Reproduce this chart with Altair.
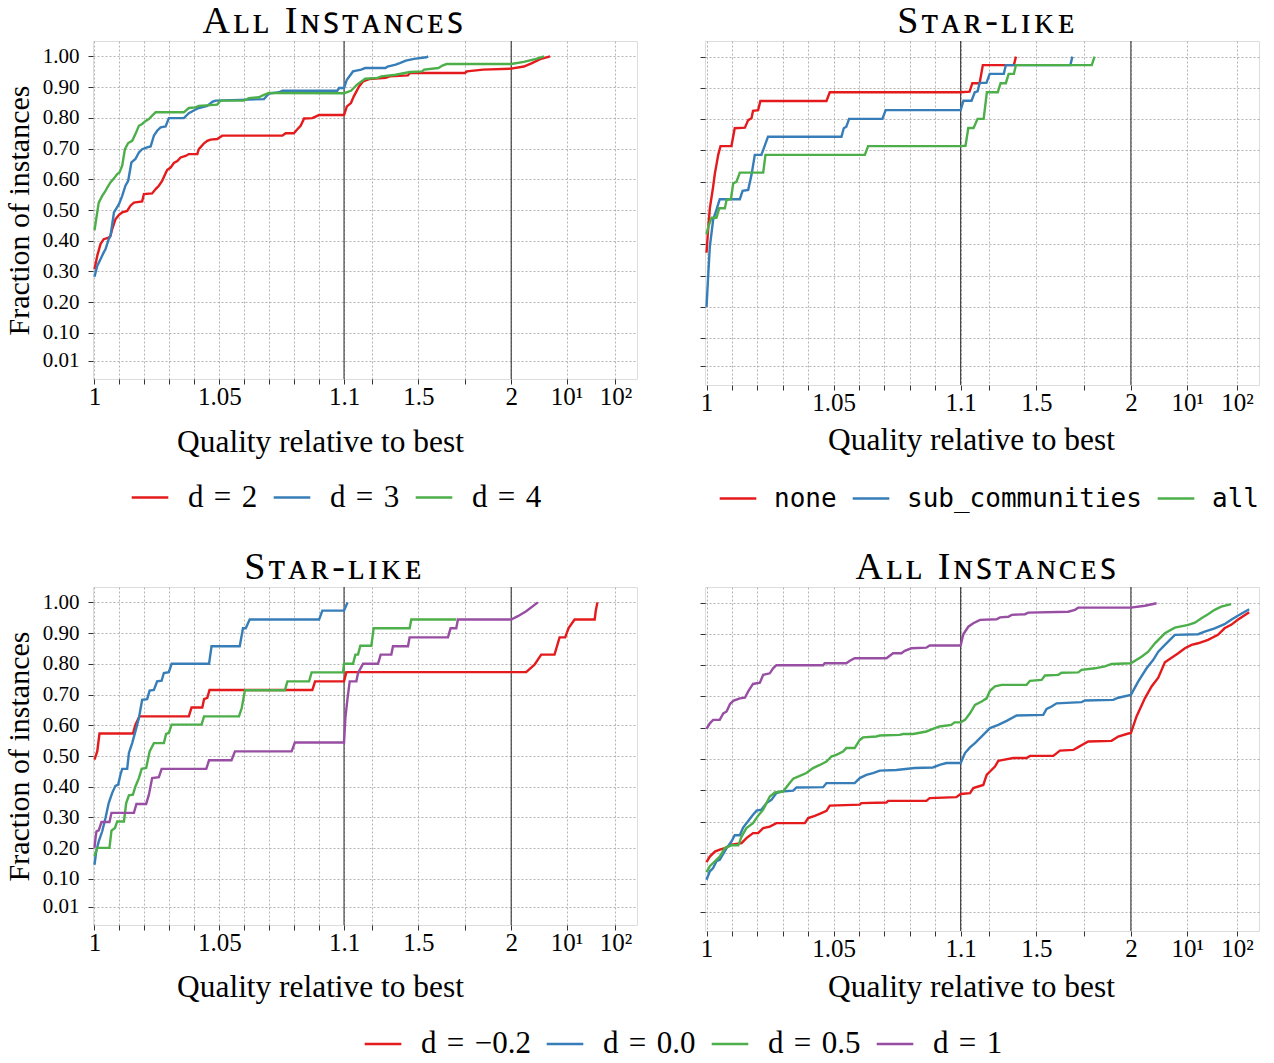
import math
import altair as alt
import pandas as pd

# ---------------- data (quality ratio x, fraction of instances y) ----------------
# Top-left: All Instances, d = 2 / 3 / 4
TL_D2_X = [1.0, 1.0011, 1.0024, 1.0037, 1.0057, 1.0064, 1.0071, 1.0084, 1.0098, 1.0111, 1.0131, 1.0144, 1.0158, 1.0191, 1.0198, 1.0231, 1.0245, 1.0258, 1.0271, 1.0291, 1.0305, 1.0318, 1.0332, 1.0345, 1.0365, 1.0378, 1.0412, 1.0418, 1.0439, 1.0452, 1.0465, 1.0492, 1.0512, 1.0753, 1.0766, 1.0799, 1.0813, 1.0826, 1.0840, 1.0873, 1.0900, 1.1000, 1.1153, 1.1372, 1.1526, 1.1810, 1.2029, 1.2358, 1.3234, 1.3453, 1.4438, 1.4547, 1.7504, 1.7613, 1.8489, 2.0, 2.89, 3.66, 4.64, 6.2]
TL_D2_Y = [0.307, 0.351, 0.389, 0.405, 0.410, 0.416, 0.438, 0.470, 0.484, 0.492, 0.497, 0.514, 0.524, 0.528, 0.552, 0.554, 0.568, 0.579, 0.595, 0.630, 0.638, 0.653, 0.659, 0.671, 0.676, 0.682, 0.682, 0.698, 0.717, 0.725, 0.729, 0.731, 0.742, 0.742, 0.750, 0.750, 0.763, 0.774, 0.798, 0.799, 0.809, 0.809, 0.837, 0.848, 0.870, 0.902, 0.919, 0.926, 0.930, 0.935, 0.938, 0.946, 0.946, 0.951, 0.957, 0.960, 0.967, 0.978, 0.991, 1.0]
TL_D3_X = [1.0, 1.0011, 1.0024, 1.0037, 1.0044, 1.0057, 1.0064, 1.0078, 1.0098, 1.0111, 1.0124, 1.0135, 1.0148, 1.0164, 1.0178, 1.0191, 1.0211, 1.0225, 1.0238, 1.0251, 1.0265, 1.0285, 1.0298, 1.0358, 1.0378, 1.0398, 1.0418, 1.0452, 1.0472, 1.0485, 1.0679, 1.0699, 1.0739, 1.0753, 1.0973, 1.0980, 1.1000, 1.1153, 1.1482, 1.1920, 1.2139, 1.3234, 1.3343, 1.3781, 1.4000, 1.4328, 1.4766, 1.5423, 1.5533]
TL_D3_Y = [0.283, 0.318, 0.340, 0.362, 0.372, 0.405, 0.416, 0.492, 0.519, 0.546, 0.579, 0.595, 0.655, 0.666, 0.687, 0.698, 0.704, 0.707, 0.742, 0.758, 0.769, 0.772, 0.799, 0.799, 0.815, 0.824, 0.832, 0.839, 0.852, 0.856, 0.861, 0.879, 0.883, 0.888, 0.888, 0.897, 0.897, 0.924, 0.951, 0.957, 0.962, 0.962, 0.967, 0.973, 0.978, 0.986, 0.992, 0.997, 1.0]
TL_D4_X = [1.0, 1.0017, 1.0031, 1.0044, 1.0051, 1.0064, 1.0078, 1.0091, 1.0100, 1.0111, 1.0122, 1.0135, 1.0151, 1.0164, 1.0178, 1.0191, 1.0205, 1.0218, 1.0231, 1.0245, 1.0358, 1.0378, 1.0405, 1.0418, 1.0492, 1.0505, 1.0599, 1.0619, 1.0659, 1.0672, 1.0699, 1.1000, 1.1372, 1.1701, 1.2139, 1.2796, 1.3015, 1.3781, 1.4547, 1.5204, 1.5314, 1.6080, 1.6299, 1.6518, 2.0, 2.89, 4.12, 5.2]
TL_D4_Y = [0.434, 0.524, 0.546, 0.562, 0.573, 0.590, 0.603, 0.617, 0.622, 0.644, 0.698, 0.718, 0.725, 0.747, 0.774, 0.780, 0.790, 0.796, 0.807, 0.818, 0.818, 0.832, 0.834, 0.839, 0.843, 0.856, 0.856, 0.864, 0.867, 0.872, 0.881, 0.880, 0.888, 0.908, 0.927, 0.930, 0.935, 0.940, 0.949, 0.951, 0.957, 0.962, 0.970, 0.975, 0.975, 0.982, 0.992, 1.0]

# Top-right: Star-like, none / sub_communities / all
TR_NONE_X = [1.0, 1.0007, 1.0013, 1.0026, 1.0033, 1.0039, 1.0046, 1.0055, 1.0098, 1.0111, 1.0151, 1.0164, 1.0177, 1.0183, 1.0203, 1.0212, 1.0472, 1.0485, 1.1000, 1.1469, 1.1618, 1.2002, 1.2173, 1.3815, 1.3922]
TR_NONE_Y = [0.373, 0.456, 0.515, 0.584, 0.627, 0.654, 0.686, 0.714, 0.714, 0.771, 0.773, 0.797, 0.803, 0.827, 0.829, 0.858, 0.858, 0.886, 0.886, 0.888, 0.915, 0.915, 0.973, 0.973, 1.0]
TR_SUB_X = [1.0, 1.0007, 1.0013, 1.0026, 1.0039, 1.0052, 1.0131, 1.0142, 1.0164, 1.0177, 1.0190, 1.0216, 1.0242, 1.0531, 1.0540, 1.0550, 1.0561, 1.0692, 1.0705, 1.1000, 1.1149, 1.1576, 1.1746, 1.1896, 1.2002, 1.2365, 1.2536, 1.3282, 1.3389, 1.6801, 1.6907]
TR_SUB_Y = [0.200, 0.307, 0.392, 0.478, 0.510, 0.544, 0.544, 0.571, 0.574, 0.622, 0.686, 0.686, 0.744, 0.744, 0.771, 0.776, 0.801, 0.801, 0.829, 0.829, 0.859, 0.859, 0.886, 0.889, 0.916, 0.916, 0.945, 0.945, 0.973, 0.973, 1.0]
TR_ALL_X = [1.0, 1.0007, 1.0020, 1.0039, 1.0050, 1.0072, 1.0079, 1.0096, 1.0105, 1.0118, 1.0131, 1.0223, 1.0232, 1.0623, 1.0636, 1.1000, 1.1256, 1.1405, 1.1682, 1.1896, 1.2216, 1.2386, 1.2962, 1.3111, 1.3389, 1.3538, 1.3815, 1.3922, 1.7931, 1.8080]
TR_ALL_Y = [0.432, 0.456, 0.485, 0.485, 0.515, 0.515, 0.542, 0.544, 0.595, 0.600, 0.629, 0.629, 0.686, 0.686, 0.714, 0.714, 0.715, 0.772, 0.772, 0.801, 0.801, 0.886, 0.886, 0.915, 0.915, 0.945, 0.945, 0.973, 0.973, 1.0]

# Bottom-left: Star-like, d = -0.2 / 0.0 / 0.5 / 1
BL_M02_X = [1.0, 1.0011, 1.0020, 1.0154, 1.0164, 1.0180, 1.0378, 1.0389, 1.0432, 1.0439, 1.0452, 1.0461, 1.0873, 1.0884, 1.1000, 1.1125, 2.0, 3.09, 3.94, 4.79, 7.05, 8.16, 9.62, 11.0, 14.6, 37.6, 39.4, 42.7]
BL_M02_Y = [0.488, 0.515, 0.573, 0.573, 0.602, 0.629, 0.629, 0.658, 0.658, 0.685, 0.689, 0.715, 0.715, 0.743, 0.743, 0.773, 0.773, 0.773, 0.797, 0.830, 0.830, 0.886, 0.886, 0.916, 0.944, 0.944, 0.971, 1.0]
BL_D00_X = [1.0, 1.0007, 1.0017, 1.0031, 1.0044, 1.0057, 1.0071, 1.0084, 1.0095, 1.0104, 1.0111, 1.0131, 1.0138, 1.0151, 1.0164, 1.0178, 1.0191, 1.0211, 1.0221, 1.0238, 1.0251, 1.0269, 1.0278, 1.0298, 1.0309, 1.0459, 1.0469, 1.0582, 1.0595, 1.0606, 1.0622, 1.0900, 1.0913, 1.1000, 1.119]
BL_D00_Y = [0.146, 0.190, 0.222, 0.255, 0.298, 0.347, 0.380, 0.403, 0.407, 0.439, 0.458, 0.458, 0.510, 0.542, 0.580, 0.624, 0.683, 0.685, 0.713, 0.715, 0.743, 0.745, 0.770, 0.773, 0.800, 0.800, 0.857, 0.857, 0.916, 0.916, 0.944, 0.944, 0.973, 0.973, 1.0]
BL_D05_X = [1.0, 1.0011, 1.0060, 1.0068, 1.0082, 1.0091, 1.0118, 1.0127, 1.0138, 1.0154, 1.0164, 1.0178, 1.0189, 1.0207, 1.0221, 1.0238, 1.0278, 1.0287, 1.0298, 1.0309, 1.0429, 1.0439, 1.0579, 1.0590, 1.0603, 1.0763, 1.0773, 1.0860, 1.0870, 1.0996, 1.1000, 1.1484, 1.1610, 1.1753, 1.1878, 1.2470, 1.2596, 1.4532, 1.4621, 1.7042]
BL_D05_Y = [0.174, 0.201, 0.201, 0.257, 0.266, 0.287, 0.287, 0.347, 0.372, 0.374, 0.401, 0.428, 0.458, 0.461, 0.515, 0.542, 0.542, 0.572, 0.575, 0.602, 0.602, 0.629, 0.629, 0.656, 0.714, 0.714, 0.743, 0.743, 0.772, 0.772, 0.800, 0.800, 0.830, 0.830, 0.859, 0.859, 0.916, 0.916, 0.944, 0.944]
BL_D1_X = [1.0, 1.0004, 1.0008, 1.0017, 1.0028, 1.0060, 1.0068, 1.0158, 1.0168, 1.0207, 1.0218, 1.0231, 1.0258, 1.0269, 1.0448, 1.0459, 1.0549, 1.0563, 1.0790, 1.0803, 1.1000, 1.1072, 1.1179, 1.1305, 1.1663, 1.1753, 1.2022, 1.2829, 1.2972, 1.3546, 1.3635, 1.4442, 1.4532, 1.6594, 1.6737, 1.7042, 1.7131, 2.0, 2.43, 3.09, 4.34]
BL_D1_Y = [0.201, 0.233, 0.255, 0.258, 0.285, 0.285, 0.315, 0.315, 0.344, 0.344, 0.374, 0.428, 0.431, 0.458, 0.458, 0.486, 0.486, 0.515, 0.515, 0.544, 0.544, 0.624, 0.683, 0.743, 0.743, 0.770, 0.800, 0.800, 0.830, 0.830, 0.857, 0.857, 0.886, 0.886, 0.916, 0.916, 0.944, 0.944, 0.955, 0.971, 1.0]

# Bottom-right: All Instances, d = -0.2 / 0.0 / 0.5 / 1
BR_M02_X = [1.0, 1.0013, 1.0033, 1.0052, 1.0072, 1.0098, 1.0138, 1.0157, 1.0183, 1.0203, 1.0223, 1.0249, 1.0275, 1.0387, 1.0400, 1.0426, 1.0452, 1.0472, 1.0485, 1.0603, 1.0609, 1.0708, 1.0714, 1.0865, 1.0878, 1.0983, 1.1000, 1.1493, 1.1669, 1.1933, 1.2198, 1.2374, 1.2550, 1.2814, 1.2990, 1.3254, 1.3783, 1.4487, 1.4663, 1.5896, 1.6248, 1.6952, 1.7217, 1.7481, 1.7745, 1.8978, 1.9331, 1.9771, 2.0, 2.35, 2.98, 3.61, 4.37, 5.28, 6.39, 7.73, 9.35, 12.2, 16.5, 26.1, 41.4, 56.0, 76.0, 103.3, 175.0]
BR_M02_Y = [0.170, 0.188, 0.204, 0.210, 0.215, 0.226, 0.231, 0.247, 0.263, 0.263, 0.279, 0.284, 0.295, 0.295, 0.311, 0.318, 0.327, 0.334, 0.351, 0.354, 0.359, 0.361, 0.366, 0.366, 0.375, 0.378, 0.388, 0.391, 0.407, 0.412, 0.417, 0.449, 0.460, 0.476, 0.494, 0.497, 0.503, 0.503, 0.510, 0.510, 0.527, 0.529, 0.538, 0.547, 0.556, 0.558, 0.572, 0.580, 0.583, 0.636, 0.694, 0.732, 0.760, 0.809, 0.824, 0.838, 0.854, 0.865, 0.870, 0.881, 0.897, 0.918, 0.929, 0.945, 0.969]
BR_D00_X = [1.0, 1.0013, 1.0026, 1.0039, 1.0052, 1.0079, 1.0098, 1.0111, 1.0131, 1.0144, 1.0164, 1.0183, 1.0197, 1.0216, 1.0236, 1.0256, 1.0275, 1.0295, 1.0341, 1.0354, 1.0459, 1.0472, 1.0583, 1.0603, 1.0629, 1.0655, 1.0682, 1.0747, 1.0819, 1.0891, 1.0917, 1.0944, 1.1000, 1.1229, 1.1493, 1.1757, 1.2022, 1.2286, 1.2550, 1.2990, 1.3431, 1.3959, 1.5368, 1.5544, 1.5808, 1.6072, 1.7393, 1.7569, 1.9066, 1.9331, 2.0, 2.47, 3.13, 3.79, 4.37, 5.28, 7.02, 16.5, 22.4, 35.5, 56.0, 76.0, 103.3, 175.0]
BR_D00_Y = [0.114, 0.141, 0.151, 0.173, 0.178, 0.215, 0.236, 0.256, 0.256, 0.281, 0.302, 0.322, 0.335, 0.338, 0.359, 0.370, 0.391, 0.396, 0.399, 0.409, 0.410, 0.423, 0.423, 0.439, 0.449, 0.455, 0.463, 0.465, 0.471, 0.473, 0.481, 0.487, 0.487, 0.519, 0.537, 0.551, 0.567, 0.583, 0.599, 0.609, 0.622, 0.639, 0.641, 0.660, 0.668, 0.678, 0.682, 0.687, 0.689, 0.696, 0.705, 0.748, 0.790, 0.817, 0.843, 0.865, 0.897, 0.899, 0.907, 0.918, 0.931, 0.945, 0.958, 0.979]
BR_D05_X = [1.0, 1.0013, 1.0033, 1.0052, 1.0072, 1.0098, 1.0125, 1.0138, 1.0157, 1.0183, 1.0203, 1.0223, 1.0236, 1.0249, 1.0269, 1.0301, 1.0321, 1.0341, 1.0367, 1.0393, 1.0419, 1.0446, 1.0472, 1.0491, 1.0511, 1.0537, 1.0550, 1.0583, 1.0603, 1.0616, 1.0668, 1.0682, 1.0760, 1.0773, 1.0813, 1.0865, 1.0891, 1.0917, 1.0963, 1.0976, 1.1000, 1.1229, 1.1493, 1.1757, 1.2110, 1.2374, 1.2550, 1.2814, 1.3166, 1.4487, 1.4663, 1.5280, 1.5456, 1.6160, 1.6336, 1.7217, 1.7393, 1.8097, 1.8626, 1.8978, 2.0, 2.71, 3.28, 3.97, 5.28, 7.02, 10.5, 14.2, 19.3, 26.1, 35.5, 48.1, 76.0]
BR_D05_Y = [0.138, 0.157, 0.173, 0.188, 0.215, 0.224, 0.224, 0.252, 0.279, 0.295, 0.319, 0.338, 0.359, 0.380, 0.393, 0.396, 0.417, 0.437, 0.446, 0.455, 0.471, 0.481, 0.492, 0.508, 0.513, 0.524, 0.535, 0.535, 0.561, 0.569, 0.572, 0.575, 0.577, 0.580, 0.580, 0.588, 0.596, 0.604, 0.609, 0.617, 0.617, 0.625, 0.646, 0.673, 0.684, 0.694, 0.718, 0.732, 0.737, 0.737, 0.750, 0.753, 0.767, 0.769, 0.776, 0.777, 0.785, 0.790, 0.796, 0.804, 0.806, 0.827, 0.843, 0.870, 0.902, 0.920, 0.929, 0.936, 0.950, 0.963, 0.977, 0.987, 0.995]
BR_D1_X = [1.0, 1.0013, 1.0026, 1.0052, 1.0066, 1.0079, 1.0092, 1.0105, 1.0131, 1.0151, 1.0164, 1.0183, 1.0210, 1.0223, 1.0249, 1.0262, 1.0275, 1.0459, 1.0465, 1.0550, 1.0564, 1.0583, 1.0708, 1.0734, 1.0767, 1.0780, 1.0806, 1.0865, 1.0878, 1.1000, 1.1141, 1.1405, 1.1669, 1.2022, 1.2902, 1.3078, 1.3519, 1.3695, 1.4399, 1.4575, 1.6689, 1.7041, 1.7217, 2.0, 2.98, 4.16]
BR_D1_Y = [0.596, 0.614, 0.625, 0.625, 0.646, 0.652, 0.675, 0.686, 0.694, 0.696, 0.716, 0.740, 0.744, 0.769, 0.774, 0.790, 0.800, 0.800, 0.806, 0.806, 0.814, 0.822, 0.822, 0.838, 0.838, 0.846, 0.854, 0.856, 0.863, 0.863, 0.899, 0.923, 0.934, 0.945, 0.947, 0.953, 0.955, 0.961, 0.963, 0.968, 0.971, 0.977, 0.984, 0.984, 0.990, 0.998]

# legend labels / titles / ticks
SP = "\u2004"
NAMES_D234 = [f"d{SP}={SP}2", f"d{SP}={SP}3", f"d{SP}={SP}4"]
NAMES_CUT = ["none", "sub_communities", "all"]
NAMES_DNEG = [f"d{SP}={SP}\u22120.2", f"d{SP}={SP}0.0", f"d{SP}={SP}0.5", f"d{SP}={SP}1"]
COLORS3 = ["#e41a1c", "#377eb8", "#4daf4a"]
COLORS4 = ["#e41a1c", "#377eb8", "#4daf4a", "#984ea3"]

X_TICK_VALUES = [1, 1.05, 1.1, 1.5, 2, 10, 100]
X_TICK_LABELS = ["1", "1.05", "1.1", "1.5", "2", "10\u00b9", "10\u00b2"]
X_MINOR_VALUES = [1.01, 1.02, 1.03, 1.04, 1.06, 1.07, 1.08, 1.09, 1.25, 1.75]
Y_TICK_VALUES = [0.01, 0.1, 0.2, 0.3, 0.4, 0.5, 0.6, 0.7, 0.8, 0.9, 1.0]
BREAKS = [1.1, 2.0]

# ---------------- piecewise x transform (linear | linear | log | log) ----------------
S2, S3, S4 = 0.6699, 0.2218, 0.196
X_DOMAIN = [-0.006, 2.174]


def to_u(q):
    if q <= 1.1:
        return (q - 1) / 0.1
    if q <= 2:
        return 1 + (q - 1.1) / 0.9 * S2
    if q <= 10:
        return 1 + S2 + math.log(q / 2) / math.log(5) * S3
    return 1 + S2 + S3 + math.log10(q / 10) * S4


U_EXPR = (
    f"datum.q <= 1.1 ? (datum.q - 1) / 0.1 : "
    f"datum.q <= 2 ? 1 + (datum.q - 1.1) / 0.9 * {S2} : "
    f"datum.q <= 10 ? {1 + S2} + log(datum.q / 2) / log(5) * {S3} : "
    f"{1 + S2 + S3} + log(datum.q / 10) / LN10 * {S4}"
)

x_tick_u = sorted(to_u(v) for v in X_TICK_VALUES + X_MINOR_VALUES)
label_expr = "".join(
    f"abs(datum.value - {to_u(v):.6f}) < 0.0001 ? '{lab}' : "
    for v, lab in zip(X_TICK_VALUES, X_TICK_LABELS)
) + "''"

FONT = "Liberation Serif"
GRID = dict(grid=True, gridDash=[2, 2], gridColor="#b3b3b3", gridWidth=1)


def make_df(series):
    rows = []
    for name, xs, ys in series:
        for i, (q, y) in enumerate(zip(xs, ys)):
            rows.append({"series": name, "q": q, "y": y, "idx": i})
    return pd.DataFrame(rows)


def panel(series, names, colors, width, height, title, title_dx, show_ylabels,
          legend, xtitle_x, xtitle_y):
    df = make_df(series)
    xaxis = alt.Axis(values=x_tick_u, labelExpr=label_expr, domain=False,
                     tickSize=5, tickColor="#333333", labelFont=FONT, labelFontSize=25,
                     labelColor="black", labelPadding=0, labelOverlap=False, labelFlush=False,
                     title="Quality relative to best", titleFont=FONT, titleFontSize=31.4,
                     titleFontWeight="normal", titleColor="black", titleX=xtitle_x,
                     titleY=xtitle_y, titleBaseline="alphabetic", titleAlign="center", **GRID)
    if show_ylabels:
        yaxis = alt.Axis(values=Y_TICK_VALUES, format=".2f", domain=False, tickSize=5,
                         tickColor="#333333", labelFont=FONT, labelFontSize=21,
                         labelColor="black", labelPadding=9, labelFlush=False,
                         title="Fraction of instances", titleFont=FONT, titleFontSize=30,
                         titleFontWeight="normal", titleColor="black", titleX=-65,
                         titleY=height / 2, titleBaseline="alphabetic", titleAlign="center",
                         **GRID)
    else:
        yaxis = alt.Axis(values=Y_TICK_VALUES, labels=False, domain=False, tickSize=5,
                         tickColor="#333333", title=None, **GRID)
    xscale = alt.Scale(domain=X_DOMAIN, nice=False, zero=False)
    yscale = alt.Scale(domain=[-0.05, 1.05], nice=False, zero=False)

    rules = alt.Chart(pd.DataFrame({"q": BREAKS})).transform_calculate(
        u=U_EXPR
    ).mark_rule(color="#333333", strokeWidth=1.1).encode(
        x=alt.X("u:Q", scale=xscale, axis=xaxis)
    )
    lines = alt.Chart(df).transform_calculate(u=U_EXPR).mark_line(
        strokeWidth=2.4, clip=True
    ).encode(
        x=alt.X("u:Q", scale=xscale, axis=xaxis),
        y=alt.Y("y:Q", scale=yscale, axis=yaxis),
        color=alt.Color("series:N", scale=alt.Scale(domain=names, range=colors),
                        legend=legend),
        order=alt.Order("idx:Q"),
    )
    return alt.layer(rules, lines).properties(
        width=width, height=height,
        title=alt.TitleParams(text=title, anchor="middle", frame="group", dx=title_dx,
                              offset=-31, baseline="alphabetic", font=FONT,
                              fontSize=38, fontWeight="normal", color="black"),
    )


def legend(font, size, lx, ly, offset=18):
    return alt.Legend(orient="none", legendX=lx, legendY=ly, direction="horizontal",
                      title=None, symbolType="stroke", symbolSize=1340,
                      symbolStrokeWidth=2.6, labelFont=font, labelFontSize=size,
                      labelColor="black", labelOffset=offset, columnPadding=10, padding=0,
                      labelLimit=0)


def small_caps(s):
    return "\u200a".join(s)


T_ALL = small_caps("A\u029f\u029f I\u0274\ua731\u1d1b\u1d00\u0274\u1d04\u1d07\ua731")
T_STAR = small_caps("S\u1d1b\u1d00\u0280-\u029f\u026a\u1d0b\u1d07")

TL = panel([(NAMES_D234[0], TL_D2_X, TL_D2_Y), (NAMES_D234[1], TL_D3_X, TL_D3_Y),
            (NAMES_D234[2], TL_D4_X, TL_D4_Y)],
           NAMES_D234, COLORS3, 544, 338, T_ALL, -32, True,
           legend(FONT, 31, 37, 436.5), 227, 72)
TR = panel([(NAMES_CUT[0], TR_NONE_X, TR_NONE_Y), (NAMES_CUT[1], TR_SUB_X, TR_SUB_Y),
            (NAMES_CUT[2], TR_ALL_X, TR_ALL_Y)],
           NAMES_CUT, COLORS3, 554, 344, T_STAR, 4, False,
           legend("DejaVu Sans Mono", 26, 13, 437.5, 16), 266, 64.5)

bottom_legend = legend(FONT, 31, 270, 437)
BL = panel([(NAMES_DNEG[0], BL_M02_X, BL_M02_Y), (NAMES_DNEG[1], BL_D00_X, BL_D00_Y),
            (NAMES_DNEG[2], BL_D05_X, BL_D05_Y), (NAMES_DNEG[3], BL_D1_X, BL_D1_Y)],
           NAMES_DNEG, COLORS4, 544, 338, T_STAR, -32, True, bottom_legend, 227, 71.5)
BR = panel([(NAMES_DNEG[0], BR_M02_X, BR_M02_Y), (NAMES_DNEG[1], BR_D00_X, BR_D00_Y),
            (NAMES_DNEG[2], BR_D05_X, BR_D05_Y), (NAMES_DNEG[3], BR_D1_X, BR_D1_Y)],
           NAMES_DNEG, COLORS4, 554, 344, T_ALL, 4, False, bottom_legend, 266, 65)

top = alt.hconcat(TL, TR, spacing=61).resolve_scale(color="independent")
bottom = alt.hconcat(BL, BR, spacing=61).resolve_scale(color="shared")

chart = alt.vconcat(top, bottom, spacing=35).resolve_scale(color="independent").properties(
    padding={"left": 3, "top": 2, "right": 0, "bottom": 0},
    background="white",
).configure_view(stroke="#333333", strokeWidth=1.1).configure(font=FONT)

chart.save("out.html", embed_options={"renderer": "svg", "actions": False})
